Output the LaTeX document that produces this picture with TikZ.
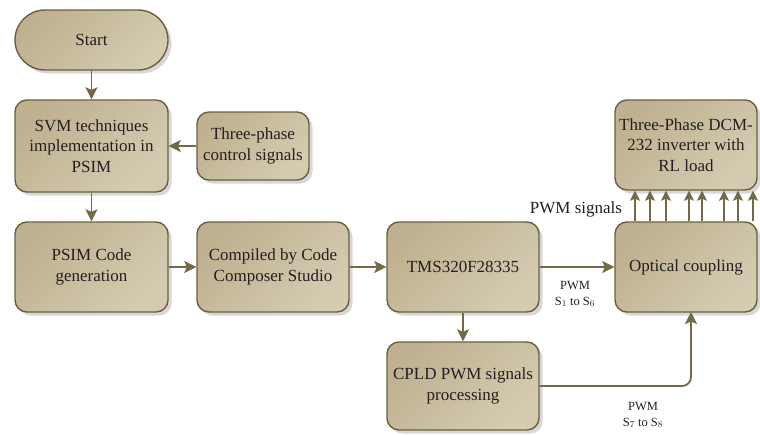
\documentclass[tikz,border=0pt]{standalone}
\usepackage{fontspec}
\setmainfont{Liberation Serif}
\newfontfamily\tmsfont{Liberation Serif}
\usetikzlibrary{arrows.meta,shadows}
\definecolor{boxdark}{HTML}{BFB190}
\definecolor{boxlight}{HTML}{D4CBB1}
\definecolor{boxline}{HTML}{6B603E}
\definecolor{arrcol}{HTML}{746A48}
\definecolor{txtcol}{HTML}{231F20}
\tikzset{
  blk/.style={draw=boxline, line width=1.4pt, rounded corners=12pt,
    top color=boxdark, bottom color=boxlight, shading angle=45,
    drop shadow={shadow xshift=3.5pt, shadow yshift=-3.5pt, fill=black!22, opacity=0.7},
    align=center, text=txtcol, inner sep=2pt,
    font=\tmsfont\fontsize{17}{20.5}\selectfont},
  arr/.style={draw=arrcol, line width=1.8pt, -{Stealth[length=12pt,width=12pt,inset=2.5pt]}},
  arrs/.style={draw=arrcol, line width=1.8pt, -{Stealth[length=10pt,width=10pt,inset=2pt]}},
  lbl/.style={text=txtcol, align=center, font=\tmsfont\fontsize{12.5}{16}\selectfont},
}
\begin{document}
\begin{tikzpicture}[x=1pt,y=-1pt]
\fill[white] (0,0) rectangle (760,434);
\useasboundingbox (0,0) rectangle (760,434);
\node[blk, rounded corners=30pt, minimum width=153pt, minimum height=60pt] (start) at (91.5,40) {Start};
\node[blk, minimum width=153pt, minimum height=92pt] (svm) at (91.5,146) {SVM techniques\\implementation in\\PSIM};
\node[blk, minimum width=112pt, minimum height=68pt] (three) at (253,146) {Three-phase\\control signals};
\node[blk, minimum width=153pt, minimum height=90pt] (psim) at (91.5,267) {PSIM Code\\generation};
\node[blk, minimum width=152pt, minimum height=90pt] (comp) at (273,267) {Compiled by Code\\Composer Studio};
\node[blk, minimum width=152pt, minimum height=90pt] (tms) at (463,267) {TMS320F28335};
\node[blk, minimum width=152pt, minimum height=88pt] (cpld) at (463,386) {CPLD PWM signals\\processing};
\node[blk, minimum width=142pt, minimum height=90pt] (opt) at (686,267) {Optical coupling};
\node[blk, minimum width=142pt, minimum height=90pt] (dcm) at (686,145) {Three-Phase DCM-\\232 inverter with\\RL load};

\draw[arr] (start) -- (svm);
\draw[arr] (three) -- (svm);
\draw[arr] (svm) -- (psim);
\draw[arr] (psim) -- (comp);
\draw[arr] (comp) -- (tms);
\draw[arr] (tms) -- (opt);
\draw[arr] (tms) -- (cpld);
\coordinate (optin) at (691,312);
\draw[arr, rounded corners=9pt] (cpld.east) -| (optin);
\foreach \xx in {635,650,666,689,702,724,738,753}
  \draw[arrs] (opt.north -| \xx,0) -- (dcm.south -| \xx,0);

\node[text=txtcol, font=\tmsfont\fontsize{17}{20.5}\selectfont] (pwmsig) at (576,209) {PWM signals};
\node[lbl] (l16) at (575,294) {PWM\\S$_1$ to S$_6$};
\node[lbl] (l78) at (643,415) {PWM\\S$_7$ to S$_8$};
\end{tikzpicture}
\end{document}
